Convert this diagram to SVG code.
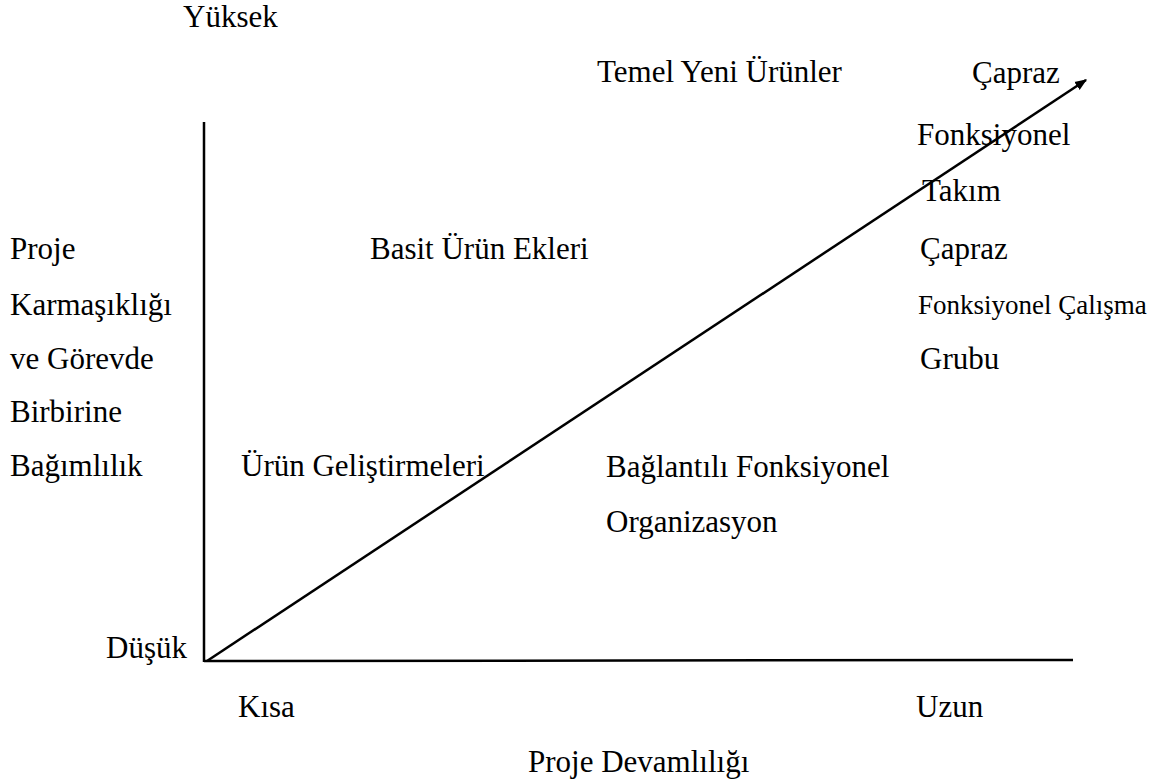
<svg xmlns="http://www.w3.org/2000/svg" width="1151" height="782" viewBox="0 0 1151 782">
  <style>
    .lbl { font-family: 'Liberation Serif', 'Times New Roman', serif; font-size: 31px; fill: #000; }
    .tight { font-size: 27px; }
    .axis { stroke: #000; stroke-width: 2.5; fill: none; }
  </style>
  <defs>
    <marker id="arrow" viewBox="0 0 10 10" refX="9" refY="5" markerWidth="12" markerHeight="12" orient="auto" markerUnits="userSpaceOnUse">
      <path d="M0,1 L10,5 L0,9 z" fill="#000"/>
    </marker>
  </defs>
  <rect width="1151" height="782" fill="#fff"/>

  <!-- axes and the rising diagonal -->
  <g id="connectors">
    <line class="axis" x1="204" y1="122" x2="204" y2="662"/>
    <line class="axis" x1="204" y1="661" x2="1073" y2="660"/>
    <line class="axis" x1="207" y1="661" x2="1086" y2="80" marker-end="url(#arrow)"/>
  </g>

  <g id="axis-labels" class="lbl">
    <text x="183" y="27">Yüksek</text>
    <text x="106" y="658">Düşük</text>
    <text x="238" y="717">Kısa</text>
    <text x="916" y="717">Uzun</text>
    <text x="528" y="772">Proje Devamlılığı</text>
  </g>

  <g id="y-title" class="lbl">
    <text x="10" y="259">Proje</text>
    <text x="10" y="315">Karmaşıklığı</text>
    <text x="10" y="369">ve Görevde</text>
    <text x="10" y="422">Birbirine</text>
    <text x="10" y="476">Bağımlılık</text>
  </g>

  <g id="temel-yeni-urunler" class="lbl"><text x="597" y="82">Temel Yeni Ürünler</text></g>
  <g id="basit-urun-ekleri" class="lbl"><text x="370" y="259">Basit Ürün Ekleri</text></g>
  <g id="urun-gelistirmeleri" class="lbl"><text x="241" y="476">Ürün Geliştirmeleri</text></g>
  <g id="baglantili-fonksiyonel" class="lbl">
    <text x="606" y="477">Bağlantılı Fonksiyonel</text>
    <text x="606" y="532">Organizasyon</text>
  </g>
  <g id="capraz-takim" class="lbl">
    <text x="972" y="83">Çapraz</text>
    <text x="917" y="145">Fonksiyonel</text>
    <text x="922" y="201">Takım</text>
  </g>
  <g id="capraz-calisma-grubu" class="lbl">
    <text x="920" y="259">Çapraz</text>
    <text class="tight" x="918" y="314">Fonksiyonel Çalışma</text>
    <text x="920" y="369">Grubu</text>
  </g>
</svg>
